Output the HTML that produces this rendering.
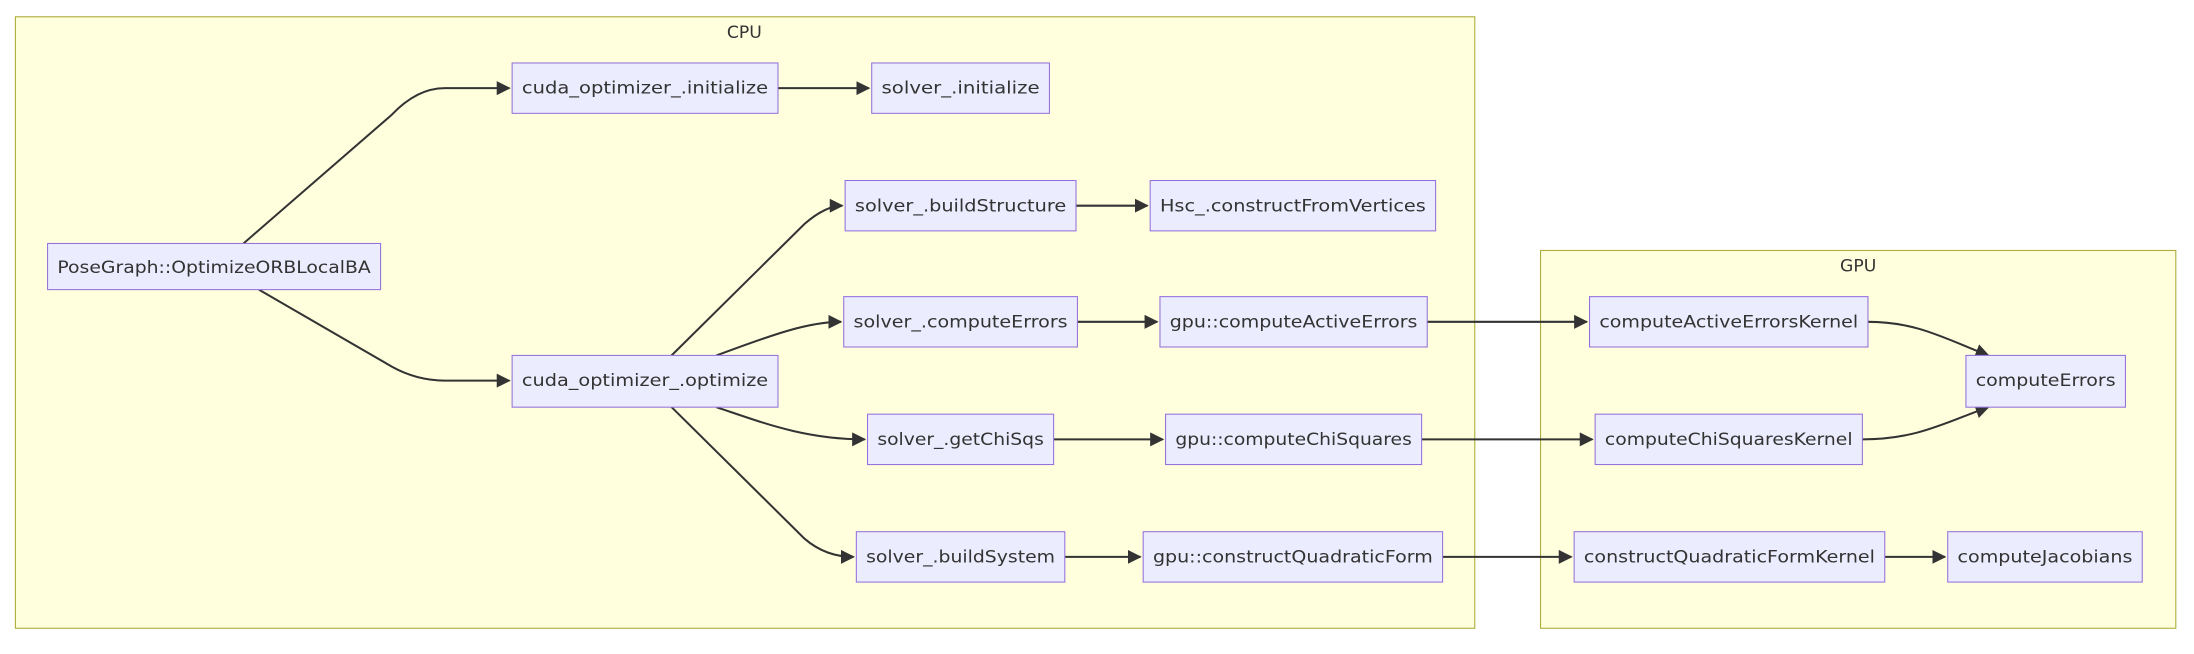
<!DOCTYPE html>
<html><head><meta charset="utf-8"><style>
html,body{margin:0;padding:0;background:#fff;}
svg{display:block;}
text{font-family:"DejaVu Sans","Liberation Sans",sans-serif;font-size:12.3px;fill:#333;}
.n{fill:#ECECFF;stroke:#9370DB;stroke-width:0.75;}
.c{fill:#ffffde;stroke:#aaaa33;stroke-width:0.75;}
.e{fill:none;stroke:#333;stroke-width:1.45;}
</style></head><body>
<svg width="2194" height="654" viewBox="0 0 1568 467.4" preserveAspectRatio="none">
<defs><marker id="a" viewBox="0 0 10 10" refX="9" refY="5" markerWidth="10" markerHeight="10" markerUnits="userSpaceOnUse" orient="auto"><path d="M0,0 L10,5 L0,10 z" fill="#333"/></marker></defs>
<rect class="c" x="11" y="12" width="1043" height="437"/>
<text x="532" y="27" text-anchor="middle">CPU</text>
<rect class="c" x="1101" y="179" width="454" height="270"/>
<text x="1328" y="194" text-anchor="middle">GPU</text>

<g class="e" marker-end="url(#a)">
<path d="M174,174 L280,82 Q298,63 318,63 L364,63"/>
<path d="M185,207 L280,262 Q298,272 318,272 L364,272"/>
<path d="M556,63 L621,63"/>
<path d="M480,254 L575,160 Q590,147 602,147"/>
<path d="M512,254 C545,242 575,230 601,230"/>
<path d="M512,291 C545,302 575,314 618,314"/>
<path d="M480,291 L575,385 Q590,398 610,398"/>
<path d="M769,147 L820,147"/>
<path d="M770,230 L827,230"/>
<path d="M753,314 L831,314"/>
<path d="M761,398 L815,398"/>
<path d="M1020,230 L1134,230"/>
<path d="M1016,314 L1138,314"/>
<path d="M1031,398 L1123,398"/>
<path d="M1347,398 L1390,398"/>
<path d="M1335,230 C1370,230 1390,242 1421,254"/>
<path d="M1331,314 C1370,314 1390,302 1421,291"/>
</g>

<rect class="n" x="34" y="174" width="238" height="33"/><text x="153" y="195" text-anchor="middle" textLength="224" lengthAdjust="spacingAndGlyphs">PoseGraph::OptimizeORBLocalBA</text>
<rect class="n" x="366" y="45" width="190" height="36"/><text x="461" y="67" text-anchor="middle" textLength="176" lengthAdjust="spacingAndGlyphs">cuda_optimizer_.initialize</text>
<rect class="n" x="623" y="45" width="127" height="36"/><text x="686.5" y="67" text-anchor="middle" textLength="113" lengthAdjust="spacingAndGlyphs">solver_.initialize</text>
<rect class="n" x="366" y="254" width="190" height="37"/><text x="461" y="276" text-anchor="middle" textLength="176" lengthAdjust="spacingAndGlyphs">cuda_optimizer_.optimize</text>
<rect class="n" x="604" y="129" width="165" height="36"/><text x="686.5" y="151" text-anchor="middle" textLength="151" lengthAdjust="spacingAndGlyphs">solver_.buildStructure</text>
<rect class="n" x="822" y="129" width="204" height="36"/><text x="924" y="151" text-anchor="middle" textLength="190" lengthAdjust="spacingAndGlyphs">Hsc_.constructFromVertices</text>
<rect class="n" x="603" y="212" width="167" height="36"/><text x="686.5" y="234" text-anchor="middle" textLength="153" lengthAdjust="spacingAndGlyphs">solver_.computeErrors</text>
<rect class="n" x="829" y="212" width="191" height="36"/><text x="924.5" y="234" text-anchor="middle" textLength="177" lengthAdjust="spacingAndGlyphs">gpu::computeActiveErrors</text>
<rect class="n" x="620" y="296" width="133" height="36"/><text x="686.5" y="318" text-anchor="middle" textLength="119" lengthAdjust="spacingAndGlyphs">solver_.getChiSqs</text>
<rect class="n" x="833" y="296" width="183" height="36"/><text x="924.5" y="318" text-anchor="middle" textLength="169" lengthAdjust="spacingAndGlyphs">gpu::computeChiSquares</text>
<rect class="n" x="612" y="380" width="149" height="36"/><text x="686.5" y="402" text-anchor="middle" textLength="135" lengthAdjust="spacingAndGlyphs">solver_.buildSystem</text>
<rect class="n" x="817" y="380" width="214" height="36"/><text x="924" y="402" text-anchor="middle" textLength="200" lengthAdjust="spacingAndGlyphs">gpu::constructQuadraticForm</text>
<rect class="n" x="1136" y="212" width="199" height="36"/><text x="1235.5" y="234" text-anchor="middle" textLength="185" lengthAdjust="spacingAndGlyphs">computeActiveErrorsKernel</text>
<rect class="n" x="1405" y="254" width="114" height="37"/><text x="1462" y="276" text-anchor="middle" textLength="100" lengthAdjust="spacingAndGlyphs">computeErrors</text>
<rect class="n" x="1140" y="296" width="191" height="36"/><text x="1235.5" y="318" text-anchor="middle" textLength="177" lengthAdjust="spacingAndGlyphs">computeChiSquaresKernel</text>
<rect class="n" x="1125" y="380" width="222" height="36"/><text x="1236" y="402" text-anchor="middle" textLength="208" lengthAdjust="spacingAndGlyphs">constructQuadraticFormKernel</text>
<rect class="n" x="1392" y="380" width="139" height="36"/><text x="1461.5" y="402" text-anchor="middle" textLength="125" lengthAdjust="spacingAndGlyphs">computeJacobians</text>
</svg>
</body></html>
